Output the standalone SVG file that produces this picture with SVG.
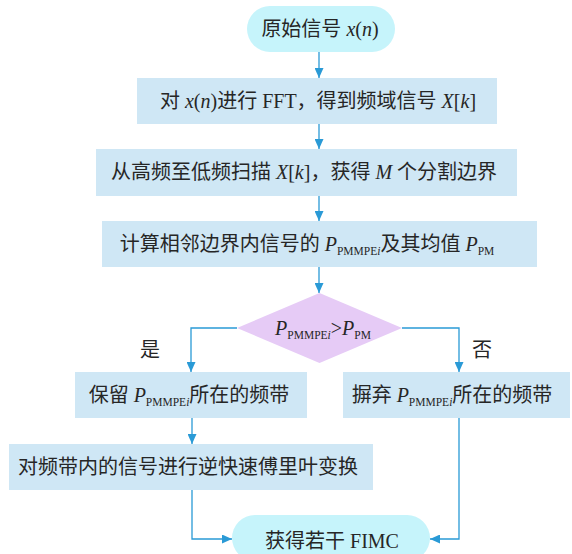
<svg xmlns="http://www.w3.org/2000/svg" width="572" height="554" viewBox="0 0 572 554">
<defs>
<marker id="ah" markerUnits="userSpaceOnUse" markerWidth="10" markerHeight="9" refX="10" refY="4.5" orient="auto" viewBox="0 0 10 9">
<path d="M0,0 L10,4.5 L0,9 z" fill="#2a9ad6"/>
</marker>
<style>
.t{font-family:"Liberation Serif","Noto Sans CJK SC",serif;font-size:20px;fill:#262626;}
.i{font-style:italic;}
.s{font-size:11.5px;}
.term{fill:#c6f4fb;}
.box{fill:#cfe7f5;}
.dia{fill:#e6cbf6;}
.c{fill:none;stroke:#2a9ad6;stroke-width:1.3;marker-end:url(#ah);}
</style>
</defs>
<rect width="572" height="554" fill="#ffffff"/>
<g id="connectors">
<path class="c" d="M319,52 V78"/>
<path class="c" d="M319,124 V149"/>
<path class="c" d="M319,196 V221"/>
<path class="c" d="M319,267 V293"/>
<path class="c" d="M237,328 H191 V372"/>
<path class="c" d="M402,328 H459 V372"/>
<path class="c" d="M192,418 V444"/>
<path class="c" d="M192,490 V539 H232"/>
<path class="c" d="M459,418 V539 H430"/>
</g>
<g id="start">
<rect class="term" x="247" y="6" width="148" height="46" rx="23"/>
<text class="t" x="320" y="36" text-anchor="middle">原始信号 <tspan class="i">x</tspan>(<tspan class="i">n</tspan>)</text>
</g>
<g id="fft">
<rect class="box" x="137" y="78" width="360" height="46"/>
<text class="t" x="318" y="108" text-anchor="middle">对 <tspan class="i">x</tspan>(<tspan class="i">n</tspan>)进行 FFT，得到频域信号 <tspan class="i">X</tspan>[<tspan class="i">k</tspan>]</text>
</g>
<g id="scan">
<rect class="box" x="96" y="149" width="421" height="47"/>
<text class="t" x="304" y="179" text-anchor="middle">从高频至低频扫描 <tspan class="i">X</tspan>[<tspan class="i">k</tspan>]，获得 <tspan class="i">M</tspan> 个分割边界</text>
</g>
<g id="calc">
<rect class="box" x="102" y="221" width="435" height="46"/>
<text class="t" x="307" y="251" text-anchor="middle">计算相邻边界内信号的 <tspan class="i">P</tspan><tspan class="s" dy="4">PMMPE</tspan><tspan class="s i">i</tspan><tspan dy="-4">及其均值 </tspan><tspan class="i">P</tspan><tspan class="s" dy="4">PM</tspan></text>
</g>
<g id="decision">
<polygon class="dia" points="319.5,293 402,328 319.5,363 237,328"/>
<text class="t" x="323" y="335" text-anchor="middle"><tspan class="i">P</tspan><tspan class="s" dy="4">PMMPE</tspan><tspan class="s i">i</tspan><tspan dy="-4">&gt;</tspan><tspan class="i">P</tspan><tspan class="s" dy="4">PM</tspan></text>
</g>
<g id="labels">
<text class="t" x="150" y="357" text-anchor="middle">是</text>
<text class="t" x="482" y="357" text-anchor="middle">否</text>
</g>
<g id="keep">
<rect class="box" x="75" y="372" width="232" height="46"/>
<text class="t" x="189" y="402" text-anchor="middle">保留 <tspan class="i">P</tspan><tspan class="s" dy="4">PMMPE</tspan><tspan class="s i">i</tspan><tspan dy="-4">所在的频带</tspan></text>
</g>
<g id="discard">
<rect class="box" x="343" y="372" width="227" height="46"/>
<text class="t" x="452" y="402" text-anchor="middle">摒弃 <tspan class="i">P</tspan><tspan class="s" dy="4">PMMPE</tspan><tspan class="s i">i</tspan><tspan dy="-4">所在的频带</tspan></text>
</g>
<g id="ifft">
<rect class="box" x="9" y="444" width="364" height="46"/>
<text class="t" x="188" y="474" text-anchor="middle">对频带内的信号进行逆快速傅里叶变换</text>
</g>
<g id="end">
<rect class="term" x="232" y="515" width="198" height="46" rx="23"/>
<text class="t" x="332" y="548" text-anchor="middle">获得若干 FIMC</text>
</g>
</svg>
